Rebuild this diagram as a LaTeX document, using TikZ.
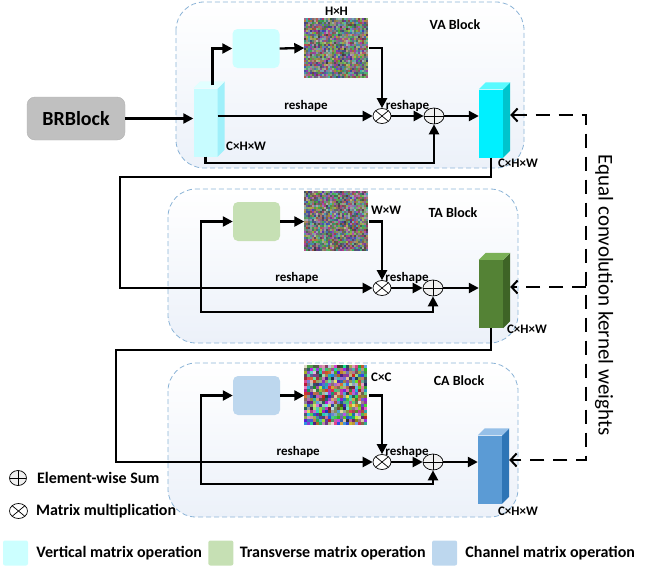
\documentclass[tikz,border=0pt]{standalone}
\usepackage{fontspec}
\setmainfont{Carlito}
\usetikzlibrary{arrows.meta}
\usetikzlibrary{positioning}
\usetikzlibrary{shapes.geometric}
\definecolor{blockline}{RGB}{140,180,215}
\definecolor{blockbot}{RGB}{236,241,249}
\definecolor{brgray}{RGB}{192,192,192}
\definecolor{vacol}{RGB}{204,255,255}
\definecolor{tacol}{RGB}{198,224,180}
\definecolor{cacol}{RGB}{189,215,238}
\definecolor{vainfront}{RGB}{200,252,255}
\definecolor{vainside}{RGB}{160,240,250}
\definecolor{vaintop}{RGB}{225,255,255}
\definecolor{cyanfront}{RGB}{0,240,255}
\definecolor{cyanside}{RGB}{0,196,204}
\definecolor{cyantop}{RGB}{90,250,255}
\definecolor{greenfront}{RGB}{84,130,53}
\definecolor{greenside}{RGB}{62,100,38}
\definecolor{greentop}{RGB}{122,176,86}
\definecolor{bluefront}{RGB}{91,155,213}
\definecolor{blueside}{RGB}{46,117,182}
\definecolor{bluetop}{RGB}{150,192,232}
\tikzset{flow/.style = {line width=2.3pt, -{Triangle[length=10pt, width=10pt]}}}
\tikzset{weight/.style = {line width=2pt, dash pattern=on 14pt off 9pt,
                          >={Straight Barb[length=6pt, width=13pt]}}}
\tikzset{block/.style = {draw=blockline, line width=0.8pt, dash pattern=on 5pt off 3pt,
                         rounded corners=28pt, top color=white, bottom color=blockbot}}
\tikzset{cubeface/.style = {minimum width=24, minimum height=68, inner sep=0}}
\tikzset{opbox/.style = {rounded corners=5pt, minimum width=47, minimum height=39, inner sep=0}}
\tikzset{noise/.style = {minimum width=64, minimum height=60, inner sep=0}}
\tikzset{mulop/.style = {ellipse, draw, line width=0.7pt, fill=white, minimum width=18,
                         minimum height=15, inner sep=0,
                         path picture={\draw[line width=0.7pt]
                           (path picture bounding box.north west) -- (path picture bounding box.south east)
                           (path picture bounding box.north east) -- (path picture bounding box.south west);}}}
\tikzset{sumop/.style = {ellipse, draw, line width=0.7pt, fill=gray!12, minimum width=20,
                         minimum height=16, inner sep=0,
                         path picture={\draw[line width=0.7pt]
                           (path picture bounding box.north) -- (path picture bounding box.south)
                           (path picture bounding box.west) -- (path picture bounding box.east);}}}
\tikzset{lbl/.style = {font=\bfseries\fontsize{13}{15}\selectfont, inner sep=1pt}}
\tikzset{title/.style = {font=\bfseries\fontsize{14}{16}\selectfont}}
\tikzset{legtext/.style = {font=\bfseries\fontsize{16}{18}\selectfont, inner sep=0pt}}
\tikzset{legsq/.style = {rounded corners=2pt, minimum size=25, inner sep=0}}

% cuboid: name, centre, front, side, top
\newcommand{\cubeblock}[5]{%
  \node[cubeface, fill=#3] (#1) at (#2) {};
  \fill[#4] (#1.south east) -- (#1.north east) -- ++(7,-7)
            -- ([shift={(7,-7)}]#1.south east) -- cycle;
  \fill[#5] (#1.north west) -- ++(7,-7)
            -- ([shift={(7,-7)}]#1.north east) -- (#1.north east) -- cycle;
  \coordinate (#1-side) at ([shift={(7,-7)}]#1.east);
}
% random pixels: node, cells x, cells y, cell size, low, span
\newcommand{\noisepatch}[6]{%
  \foreach \i in {1,...,#2}{\foreach \j in {1,...,#3}{
    \pgfmathsetmacro{\nr}{#5+#6*rnd}
    \pgfmathsetmacro{\ng}{#5+#6*rnd}
    \pgfmathsetmacro{\nb}{#5+#6*rnd}
    \definecolor{nzc}{rgb}{\nr,\ng,\nb}
    \fill[nzc, shift={(#1.north west)}] ({(\i-1)*#4},{(\j-1)*#4}) rectangle ++(#4,#4);
  }}
}

\begin{document}
\begin{tikzpicture}[x=1pt, y=-1pt]
  \pgfmathsetseed{17}
  \useasboundingbox (0,0) rectangle (659,571);

  % the three attention blocks
  \draw[block] (176,2) rectangle (524,168);
  \draw[block] (168,189) rectangle (518,343);
  \draw[block] (168,363) rectangle (518,517);

  \node[draw=gray!60, fill=brgray, rounded corners=8pt, minimum width=98, minimum height=43,
        font=\bfseries\fontsize{20}{22}\selectfont] (brb) at (76,118.5) {BRBlock};

  % VA block
  \cubeblock{vain}{205.5,122.5}{vainfront}{vainside}{vaintop}
  \cubeblock{vaout}{491,123.5}{cyanfront}{cyanside}{cyantop}
  \node[opbox, fill=vacol] (vabox) at (256,48.5) {};
  \node[noise] (vanoise) at (336.5,48) {};
  \noisepatch{vanoise}{32}{30}{2}{0.22}{0.5}
  \node[lbl, above=1pt of vanoise] (vahh) {H×H};
  \node[mulop] (vamul) at (382,116) {};
  \node[sumop] (vasum) at (434,116) {};
  \node[title] (vatitle) at (455,25) {VA Block};
  \node[lbl, anchor=west] (vainlbl) at (225,146) {C×H×W};
  \node[lbl] (vaoutlbl) at (518,163) {C×H×W};

  \draw[flow] (brb.east) -- (brb.east -| vain.west);
  \draw[flow] ([shift={(7,-3)}]vain.north) |- (vabox.west);
  \draw[flow] (vabox.east) -- (vanoise.west);
  \draw[flow] (vanoise.east) -| (vamul.north);
  \draw[flow] (vamul -| vain.east) -- node[lbl, above=2pt, pos=0.57] {reshape} (vamul.west);
  \draw[flow] (vamul) -- node[lbl, above=2pt] {reshape} (vasum);
  \draw[flow] (vasum) -- (vasum -| vaout.west);
  \draw[flow] (vain.south) -- ++(0,6) -| (vasum.south);

  % TA block
  \cubeblock{taout}{491,294}{greenfront}{greenside}{greentop}
  \node[opbox, fill=tacol] (tabox) at (256.5,221.5) {};
  \node[noise] (tanoise) at (336.5,221.5) {};
  \noisepatch{tanoise}{32}{30}{2}{0.22}{0.5}
  \node[lbl, anchor=west] (taww) at (370,210) {W×W};
  \node[mulop] (tamul) at (382,288) {};
  \node[sumop] (tasum) at (433,288) {};
  \node[title] (tatitle) at (453,213) {TA Block};
  \node[lbl] (taoutlbl) at (527,329) {C×H×W};
  \coordinate (vaturn) at (120,177);
  \coordinate (tasplit) at (201,288);

  \draw[flow] (vaout.south) |- (vaturn) |- node[lbl, above=2pt, pos=0.85] {reshape} (tamul.west);
  \draw[flow] (tasplit) |- (tabox.west);
  \draw[flow] (tasplit) -- ++(0,24) -| (tasum.south);
  \draw[flow] (tabox.east) -- (tanoise.west);
  \draw[flow] (tanoise.east) -| (tamul.north);
  \draw[flow] (tamul) -- node[lbl, above=2pt] {reshape} (tasum);
  \draw[flow] (tasum) -- (tasum -| taout.west);

  % CA block
  \cubeblock{caout}{490,469.5}{bluefront}{blueside}{bluetop}
  \node[opbox, fill=cacol] (cabox) at (256.5,395.5) {};
  \node[noise] (canoise) at (336.5,395.5) {};
  \noisepatch{canoise}{21}{20}{3}{0.1}{0.8}
  \node[lbl, anchor=west] (cacc) at (370,377) {C×C};
  \node[mulop] (camul) at (382,462) {};
  \node[sumop] (casum) at (433,462) {};
  \node[title] (catitle) at (459,381) {CA Block};
  \node[lbl] (caoutlbl) at (518,511) {C×H×W};
  \coordinate (taturn) at (116,350);
  \coordinate (casplit) at (201,462);

  \draw[flow] (taout.south) |- (taturn) |- node[lbl, above=2pt, pos=0.855] {reshape} (camul.west);
  \draw[flow] (casplit) |- (cabox.west);
  \draw[flow] (casplit) -- ++(0,22) -| (casum.south);
  \draw[flow] (cabox.east) -- (canoise.west);
  \draw[flow] (canoise.east) -| (camul.north);
  \draw[flow] (camul) -- node[lbl, above=2pt] {reshape} (casum);
  \draw[flow] (casum) -- (casum -| caout.west);

  % shared kernel weights
  \coordinate (wva) at (586,115);
  \coordinate (wta) at (586,287);
  \coordinate (wca) at (586,460);
  \draw[weight, <->] (vaout-side |- wva) -- (wva) -- (wca) -- (caout-side |- wca);
  \draw[weight, ->] (wta) -- (taout-side |- wta);
  \node[rotate=-90, font=\fontsize{21}{24}\selectfont] (wtext) at (604,295)
       {Equal convolution kernel weights};

  % legend
  \node[sumop, minimum width=17, minimum height=15] (legsum) at (18,478) {};
  \node[legtext, right=10pt of legsum] (legsumtxt) {Element-wise Sum};
  \node[mulop] (legmul) at (18.5,511) {};
  \node[legtext, right=8pt of legmul] (legmultxt) {Matrix multiplication};

  \node[legsq, fill=vacol] (legva) at (15.5,553) {};
  \node[legtext, right=8pt of legva] (legvatxt) {Vertical matrix operation};
  \node[legsq, fill=tacol, right=6pt of legvatxt] (legta) {};
  \node[legtext, right=6pt of legta] (legtatxt) {Transverse matrix operation};
  \node[legsq, fill=cacol, right=6pt of legtatxt] (legca) {};
  \node[legtext, right=8pt of legca] (legcatxt) {Channel matrix operation};
\end{tikzpicture}
\end{document}
